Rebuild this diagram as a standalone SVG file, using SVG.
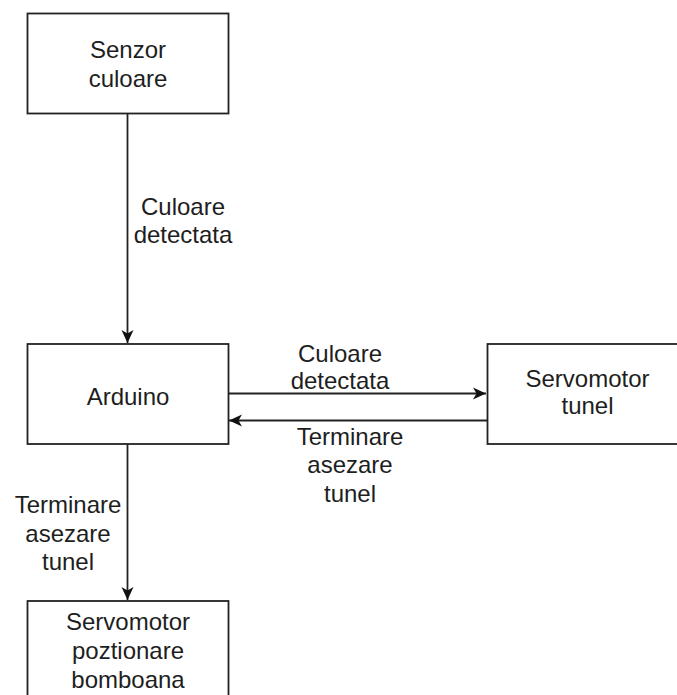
<svg xmlns="http://www.w3.org/2000/svg" width="677" height="695" viewBox="0 0 677 695">
<style>
.box{fill:#fff;stroke:#222;stroke-width:1.8}
.lbl{font-family:"Liberation Sans",Arial,sans-serif;font-size:24px;fill:#1e1e1e;text-anchor:middle}
.edge{fill:none;stroke:#222;stroke-width:1.8}
</style>
<defs>
<marker id="arr" viewBox="-14 -7 15 14" refX="0" refY="0" markerWidth="15" markerHeight="14" markerUnits="userSpaceOnUse" orient="auto">
<path d="M0,0 L-13,-6 L-9.5,0 L-13,6 Z" fill="#111"/>
</marker>
</defs>
<rect width="677" height="695" fill="#fff"/>
<g id="connectors">
<line class="edge" x1="127.5" y1="113" x2="127.5" y2="343" marker-end="url(#arr)"/>
<line class="edge" x1="228" y1="393.5" x2="486" y2="393.5" marker-end="url(#arr)"/>
<line class="edge" x1="487" y1="420.5" x2="229" y2="420.5" marker-end="url(#arr)"/>
<line class="edge" x1="127.5" y1="444" x2="127.5" y2="600" marker-end="url(#arr)"/>
<text class="lbl" x="183" y="215">Culoare</text>
<text class="lbl" x="183" y="243">detectata</text>
<text class="lbl" x="340" y="362">Culoare</text>
<text class="lbl" x="340" y="389">detectata</text>
<text class="lbl" x="350" y="445">Terminare</text>
<text class="lbl" x="350" y="473">asezare</text>
<text class="lbl" x="350" y="502">tunel</text>
<text class="lbl" x="68" y="513">Terminare</text>
<text class="lbl" x="68" y="542">asezare</text>
<text class="lbl" x="68" y="570">tunel</text>
</g>
<g id="senzor">
<rect class="box" x="27.5" y="13.5" width="201" height="100"/>
<text class="lbl" x="128" y="58">Senzor</text>
<text class="lbl" x="128" y="87">culoare</text>
</g>
<g id="arduino">
<rect class="box" x="27.5" y="344" width="201" height="100"/>
<text class="lbl" x="128" y="405">Arduino</text>
</g>
<g id="servo-tunel">
<rect class="box" x="487.5" y="344" width="201" height="100"/>
<text class="lbl" x="587.5" y="387">Servomotor</text>
<text class="lbl" x="587.5" y="414">tunel</text>
</g>
<g id="servo-pozitionare">
<rect class="box" x="27.5" y="601" width="201" height="100"/>
<text class="lbl" x="128" y="630">Servomotor</text>
<text class="lbl" x="128" y="659">poztionare</text>
<text class="lbl" x="128" y="688">bomboana</text>
</g>
</svg>
